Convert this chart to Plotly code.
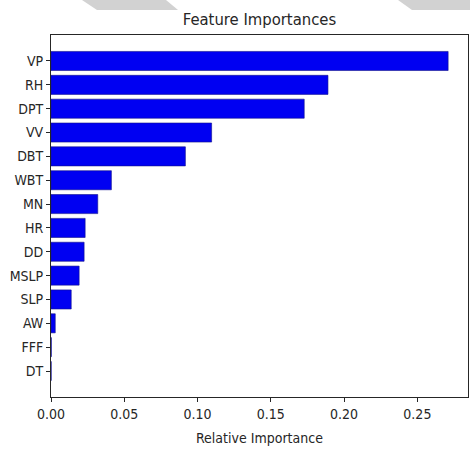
import plotly.graph_objects as go

# Feature importances, listed bottom -> top
features = ["DT", "FFF", "AW", "SLP", "MSLP", "DD", "HR", "MN",
            "WBT", "DBT", "VV", "DPT", "RH", "VP"]
importances = [0.0001, 0.0002, 0.0029, 0.0138, 0.0192, 0.0226, 0.0233, 0.0319,
               0.0412, 0.0917, 0.1096, 0.1728, 0.189, 0.271]
x_ticks = [0.0, 0.05, 0.10, 0.15, 0.20, 0.25]

FONT = "DejaVu Sans Condensed, DejaVu Sans, sans-serif"
INK = "#262626"

W, H = 470, 449
L, R, T, B = 51, 2, 35, 52
pw, ph = W - L - R, H - T - B


def px_to_paper(x, y):
    return (x - L) / pw, (H - B - y) / ph


def poly_path(points):
    pts = [px_to_paper(x, y) for x, y in points]
    return "M " + " L ".join(f"{a:.4f},{b:.4f}" for a, b in pts) + " Z"


fig = go.Figure(
    go.Bar(
        x=importances,
        y=features,
        orientation="h",
        width=0.8,
        marker=dict(color="#0000f2", line=dict(color="#10108a", width=0.6)),
    )
)

n = len(features)
span = (n - 1) + 0.8
pad = 0.05 * span
xmax = max(importances) * 1.05

fig.update_layout(
    width=W,
    height=H,
    margin=dict(l=L, r=R, t=T, b=B),
    paper_bgcolor="white",
    plot_bgcolor="white",
    showlegend=False,
    bargap=0.2,
    font=dict(family=FONT, size=14, color=INK),
    title=dict(
        text="Feature Importances",
        x=(L + pw / 2) / W,
        xanchor="center",
        xref="container",
        y=1 - 19 / H,
        yanchor="middle",
        yref="container",
        font=dict(family=FONT, size=16.5, color=INK),
    ),
    xaxis=dict(
        range=[0, xmax],
        tickvals=x_ticks,
        tickformat=".2f",
        ticks="outside",
        ticklen=4,
        tickcolor=INK,
        showline=True,
        linecolor=INK,
        linewidth=1,
        mirror=True,
        showgrid=False,
        zeroline=False,
        tickfont=dict(family=FONT, size=14, color=INK),
    ),
    yaxis=dict(
        type="category",
        categoryorder="array",
        categoryarray=features,
        range=[-0.4 - pad, (n - 1) + 0.4 + pad],
        ticks="outside",
        ticklen=4,
        tickcolor=INK,
        showline=True,
        linecolor=INK,
        linewidth=1,
        mirror=True,
        showgrid=False,
        zeroline=False,
        tickfont=dict(family=FONT, size=14, color=INK),
    ),
    annotations=[
        dict(
            text="Relative Importance",
            xref="paper",
            yref="paper",
            x=0.5,
            y=px_to_paper(0, 438)[1],
            xanchor="center",
            yanchor="middle",
            showarrow=False,
            font=dict(family=FONT, size=14, color=INK),
        )
    ],
    shapes=[
        dict(type="path", xref="paper", yref="paper", layer="below",
             path=poly_path([(82, 0), (166, 0), (178, 10), (97, 10)]),
             fillcolor="#d2d2d2", line=dict(width=0)),
        dict(type="path", xref="paper", yref="paper", layer="below",
             path=poly_path([(398, 0), (470, 0), (470, 10), (412, 10)]),
             fillcolor="#d2d2d2", line=dict(width=0)),
    ],
)

fig.write_html("out.html")
